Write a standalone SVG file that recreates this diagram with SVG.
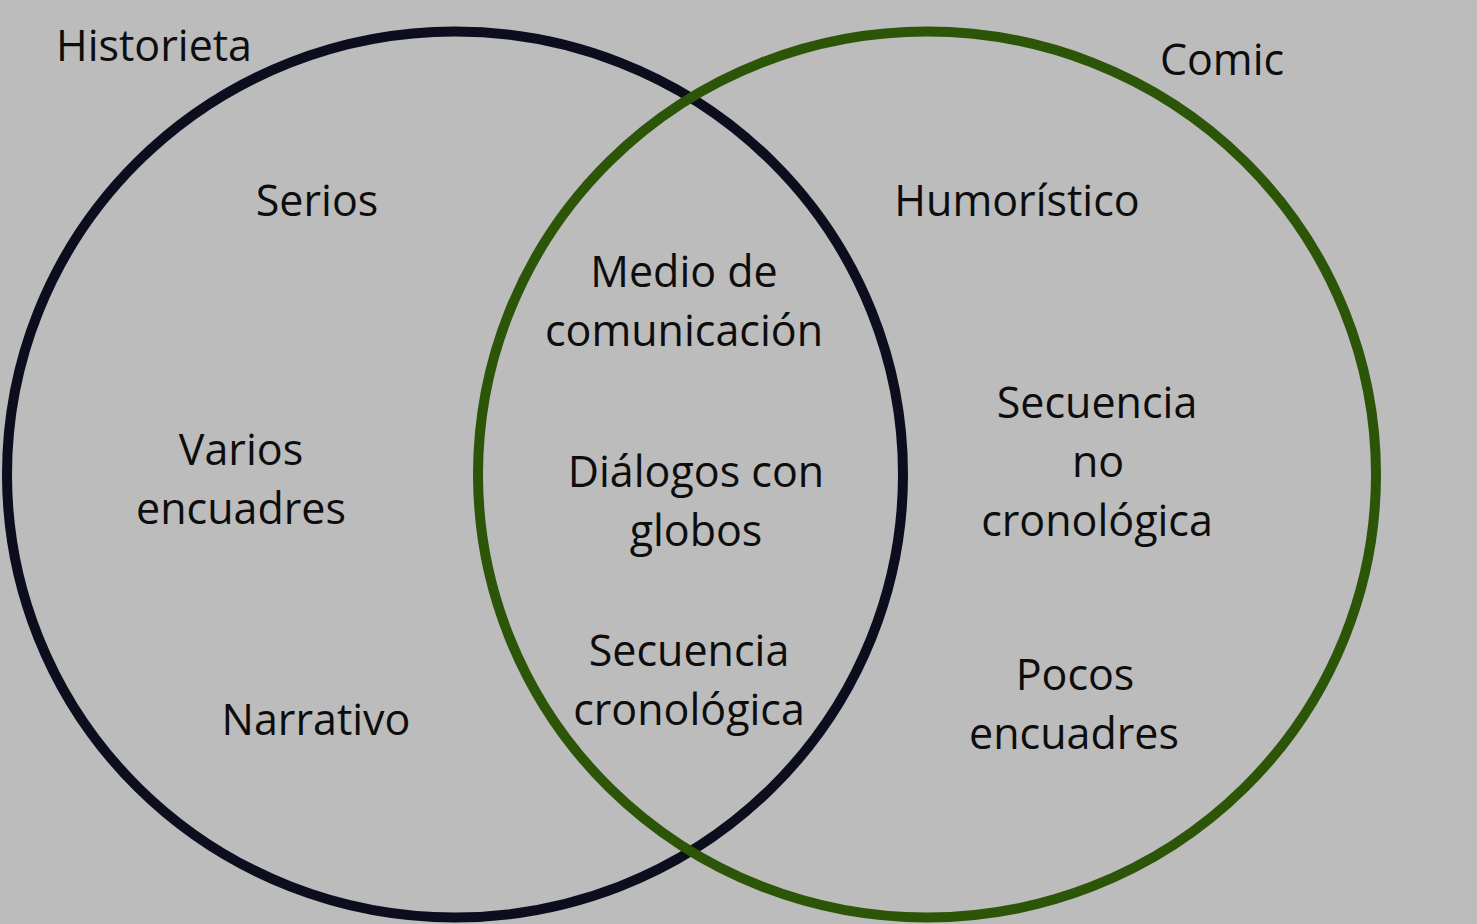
<svg xmlns="http://www.w3.org/2000/svg" width="1477" height="924" viewBox="0 0 1477 924">
<style>
.t{font-family:"Open Sans","Noto Sans","Liberation Sans",sans-serif;font-size:43px;fill:#0d0d0d;text-anchor:middle}
.c{fill:none;stroke-width:10}
</style>
<rect width="1477" height="924" fill="#bcbcbc"/>
<g id="circle-historieta"><ellipse class="c" cx="455" cy="474.5" rx="448" ry="443" stroke="#0c0e1e"/></g>
<g id="circle-comic"><ellipse class="c" cx="927" cy="474.5" rx="449" ry="443" stroke="#2c5508"/></g>
<g id="label-historieta"><text class="t" x="154" y="61">Historieta</text></g>
<g id="label-comic"><text class="t" x="1222" y="75">Comic</text></g>
<g id="serios"><text class="t" x="317" y="216">Serios</text></g>
<g id="varios-encuadres"><text class="t" x="241" y="465">Varios</text><text class="t" x="241" y="524">encuadres</text></g>
<g id="narrativo"><text class="t" x="316" y="735">Narrativo</text></g>
<g id="medio-comunicacion"><text class="t" x="684" y="287">Medio de</text><text class="t" x="684" y="346">comunicación</text></g>
<g id="dialogos-globos"><text class="t" x="696" y="487">Diálogos con</text><text class="t" x="696" y="546">globos</text></g>
<g id="secuencia-cronologica"><text class="t" x="689" y="666">Secuencia</text><text class="t" x="689" y="725">cronológica</text></g>
<g id="humoristico"><text class="t" x="1017" y="216">Humorístico</text></g>
<g id="secuencia-no-cronologica"><text class="t" x="1097" y="418">Secuencia</text><text class="t" x="1098" y="477">no</text><text class="t" x="1097" y="536">cronológica</text></g>
<g id="pocos-encuadres"><text class="t" x="1075" y="690">Pocos</text><text class="t" x="1074" y="749">encuadres</text></g>
</svg>
